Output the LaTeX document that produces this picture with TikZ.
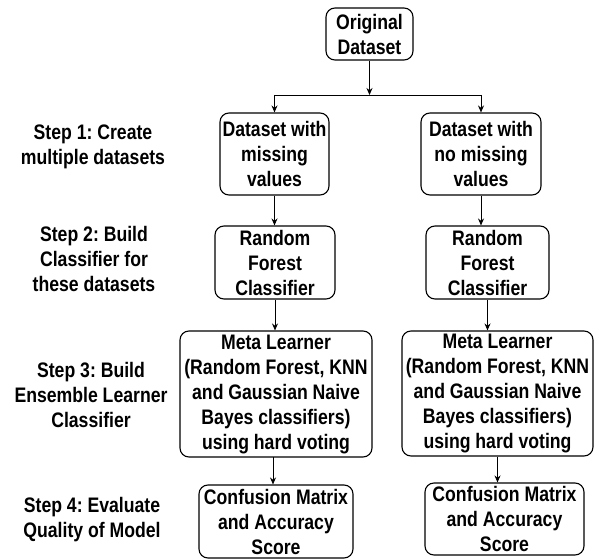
\documentclass[tikz,border=0pt]{standalone}
\usepackage{fontspec}
\setmainfont{Liberation Sans}[FakeStretch=0.84]
\usepackage{tikz}
\usetikzlibrary{arrows.meta,positioning,calc}
\frenchspacing

\begin{document}
\begin{tikzpicture}[x=1pt,y=-1pt,
  box/.style={draw,line width=1.1pt,rounded corners=9pt,align=center,inner sep=2pt,
    font={\fontsize{21}{25}\selectfont\bfseries}},
  steplabel/.style={align=center,font={\fontsize{21}{25}\selectfont\bfseries}},
  arr/.style={line width=0.9pt,-{Stealth[length=7pt,width=6pt]}}]
\useasboundingbox (0,0) rectangle (594,559);
% boxes
\node[box,minimum width=87pt,minimum height=52pt] (orig) at (369.5,34) {Original\\Dataset};
\node[box,minimum width=109pt,minimum height=82pt] (miss) at (274.5,154) {Dataset with\\missing\\values};
\node[box,minimum width=120pt,minimum height=82pt] (nomiss) at (481,154) {Dataset with\\no missing\\values};
\node[box,minimum width=120pt,minimum height=73pt] (rfl) at (275,262.5) {Random\\Forest\\Classifier};
\node[box,minimum width=123pt,minimum height=73pt] (rfr) at (487.5,262.5) {Random\\Forest\\Classifier};
\node[box,minimum width=192pt,minimum height=126pt] (metal) at (276,394) {Meta Learner\\(Random Forest, KNN\\and Gaussian Naive\\Bayes classifiers)\\using hard voting};
\node[box,minimum width=191pt,minimum height=125pt] (metar) at (497.5,393.5) {Meta Learner\\(Random Forest, KNN\\and Gaussian Naive\\Bayes classifiers)\\using hard voting};
\node[box,minimum width=154pt,minimum height=73pt] (cml) at (276,521.5) {Confusion Matrix\\and Accuracy\\Score};
\node[box,minimum width=159pt,minimum height=72pt] (cmr) at (504.5,519) {Confusion Matrix\\and Accuracy\\Score};
% step labels
\node[steplabel] (s1) at (93,146.5) {Step 1: Create\\multiple datasets};
\node[steplabel] (s2) at (94,259) {Step 2: Build\\Classifier for\\these datasets};
\node[steplabel] (s3) at (91,395) {Step 3: Build\\Ensemble Learner\\Classifier};
\node[steplabel] (s4) at (92,519.5) {Step 4: Evaluate\\Quality of Model};
% connectors
\coordinate (split) at (369.5,95);
\coordinate (ml) at (273,457);
\draw[arr] (orig.south) -- (split);
\draw[line width=0.9pt] (miss.north |- split) -- (nomiss.north |- split);
\draw[arr] (miss.north |- split) -- (miss.north);
\draw[arr] (nomiss.north |- split) -- (nomiss.north);
\draw[arr] (miss.south) -- (miss.south |- rfl.north);
\draw[arr] (nomiss.south) -- (nomiss.south |- rfr.north);
\draw[arr] (rfl.south) -- (rfl.south |- metal.north);
\draw[arr] (rfr.south) -- (rfr.south |- metar.north);
\draw[arr] (ml) -- (ml |- cml.north);
\draw[arr] (metar.south) -- (metar.south |- cmr.north);
\end{tikzpicture}
\end{document}
